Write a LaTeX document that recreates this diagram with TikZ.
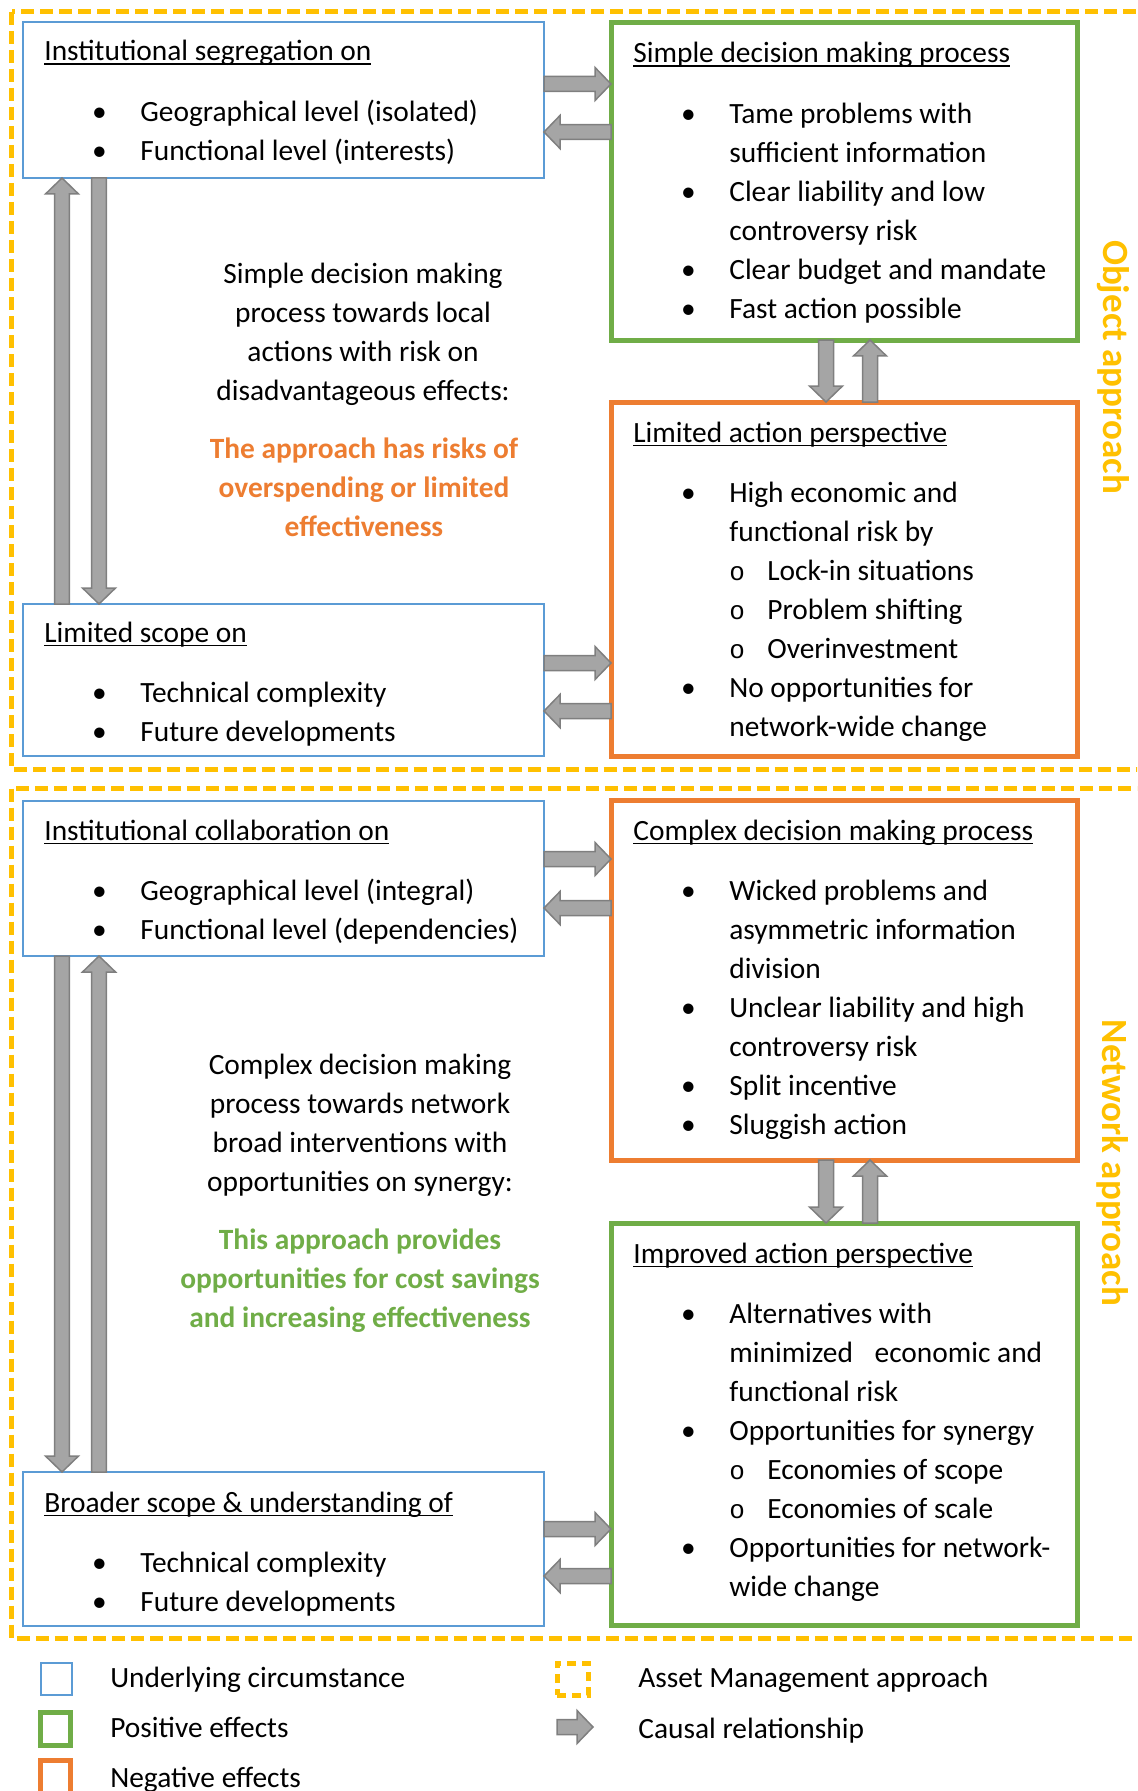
\documentclass[tikz,border=0pt]{standalone}
\usepackage{fontspec}
\setmainfont{Carlito}
\newfontfamily\monofont{Liberation Mono}
\usetikzlibrary{calc,positioning}

\newlength\px
\setlength\px{0.02cm}

\definecolor{circblue}{HTML}{5B9BD5}
\definecolor{posgreen}{HTML}{70AD47}
\definecolor{negorange}{HTML}{ED7D31}
\definecolor{amyellow}{HTML}{FFC000}
\definecolor{arrowfill}{HTML}{A5A5A5}
\definecolor{arrowline}{HTML}{7F7F7F}

\newcommand{\bfnt}{\fontsize{29.4\px}{39\px}\selectfont}
\newcommand{\sidefnt}{\fontsize{37\px}{44\px}\selectfont\bfseries}
\newcommand{\hd}[1]{\setbox0\hbox{#1}\rlap{\rule[-4\px]{\wd0}{1.5\px}}\box0}
\newcommand{\bl}{\makebox[96\px][l]{\hspace*{55\px}\makebox[0pt]{\textbullet}}}
\newcommand{\sbl}{\makebox[38\px][l]{\monofont\fontsize{26\px}{39\px}\selectfont o}}
\newcommand{\boxtext}[2]{\begin{tabular}[t]{@{}l@{}l@{}}
  \multicolumn{2}{@{}l@{}}{\hd{#1}}\\[12.5pt]
  #2
\end{tabular}}

\begin{document}
\begin{tikzpicture}[x=0.02cm,y=-0.02cm,
  cbox/.style={draw,outer sep=0pt,inner sep=0pt,anchor=north west,minimum width=466\px},
  circbox/.style={cbox,draw=circblue,line width=2.5\px,minimum width=521\px},
  posbox/.style={cbox,draw=posgreen,line width=5\px},
  negbox/.style={cbox,draw=negorange,line width=5\px},
  txt/.style={anchor=base west,inner sep=0pt,font=\bfnt},
  mid/.style={anchor=base,inner sep=0pt,font=\bfnt},
  side/.style={rotate=-90,inner sep=0pt,text=amyellow,font=\sidefnt},
  frame/.style={draw=amyellow,line width=5\px,dash pattern=on 13\px off 6\px},
  causal/.style={draw=arrowline,fill=arrowfill,line width=1.5\px,
    to path={($(\tikztostart)!0.15cm!90:(\tikztotarget)$)
      -- ($(\tikztotarget)!0.32cm!(\tikztostart)!0.15cm!90:(\tikztotarget)$)
      -- ($(\tikztotarget)!0.32cm!(\tikztostart)!0.33cm!90:(\tikztotarget)$)
      -- (\tikztotarget)
      -- ($(\tikztotarget)!0.32cm!(\tikztostart)!0.33cm!-90:(\tikztotarget)$)
      -- ($(\tikztotarget)!0.32cm!(\tikztostart)!0.15cm!-90:(\tikztotarget)$)
      -- ($(\tikztostart)!0.15cm!-90:(\tikztotarget)$) -- cycle}}]
\useasboundingbox (0,0) rectangle (1137,1791);
\clip (0,0) rectangle (1137,1791);

% approach frames
\draw[frame] (11.5,12) rectangle (1175,769);
\draw[frame] (11.5,788.5) rectangle (1175,1638);
\node[side] (objlab) at (1113,367) {Object approach};
\node[side] (netlab) at (1113,1163) {Network approach};

% boxes
\node[circbox,minimum height=156\px] (b1) at (23,22) {};
\node[posbox,minimum height=317\px] (g1) at (611,23) {};
\node[negbox,minimum height=354\px] (o1) at (611,402) {};
\node[circbox,minimum height=152\px] (b2) at (23,604) {};
\node[circbox,minimum height=155\px] (b3) at (23,801) {};
\node[negbox,minimum height=360\px] (o2) at (611,800) {};
\node[posbox,minimum height=402\px] (g2) at (611,1223) {};
\node[circbox,minimum height=154\px] (b4) at (23,1472) {};

\node[txt] (b1t) at ($(b1.north west)+(21,39)$) {\boxtext{Institutional segregation on}{
  \bl & Geographical level (isolated)\\
  \bl & Functional level (interests)}};
\node[txt] (g1t) at ($(g1.north west)+(22,40)$) {\boxtext{Simple decision making process}{
  \bl & Tame problems with\\
      & sufficient information\\
  \bl & Clear liability and low\\
      & controversy risk\\
  \bl & Clear budget and mandate\\
  \bl & Fast action possible}};
\node[txt] (o1t) at ($(o1.north west)+(22,40)$) {\boxtext{Limited action perspective}{
  \bl & High economic and\\
      & functional risk by\\
      & \sbl Lock-in situations\\
      & \sbl Problem shifting\\
      & \sbl Overinvestment\\
  \bl & No opportunities for\\
      & network-wide change}};
\node[txt] (b2t) at ($(b2.north west)+(21,38)$) {\boxtext{Limited scope on}{
  \bl & Technical complexity\\
  \bl & Future developments}};
\node[txt] (b3t) at ($(b3.north west)+(21,39)$) {\boxtext{Institutional collaboration on}{
  \bl & Geographical level (integral)\\
  \bl & Functional level (dependencies)}};
\node[txt] (o2t) at ($(o2.north west)+(22,40)$) {\boxtext{Complex decision making process}{
  \bl & Wicked problems and\\
      & asymmetric information\\
      & division\\
  \bl & Unclear liability and high\\
      & controversy risk\\
  \bl & Split incentive\\
  \bl & Sluggish action}};
\node[txt] (g2t) at ($(g2.north west)+(22,40)$) {\boxtext{Improved action perspective}{
  \bl & Alternatives with\\
      & minimized\hspace{15\px} economic and\\
      & functional risk\\
  \bl & Opportunities for synergy\\
      & \sbl Economies of scope\\
      & \sbl Economies of scale\\
  \bl & Opportunities for network-\\
      & wide change}};
\node[txt] (b4t) at ($(b4.north west)+(21,40)$) {\boxtext{Broader scope \& understanding of}{
  \bl & Technical complexity\\
  \bl & Future developments}};

% middle texts
\node[mid] (m1) at (363,283) {\begin{tabular}[t]{@{}c@{}}
  Simple decision making\\ process towards local\\ actions with risk on\\ disadvantageous effects:\end{tabular}};
\node[mid,text=negorange,font=\bfnt\bfseries] (m1r) at (364,458) {\begin{tabular}[t]{@{}c@{}}
  The approach has risks of\\ overspending or limited\\ effectiveness\end{tabular}};
\node[mid] (m2) at (360,1074) {\begin{tabular}[t]{@{}c@{}}
  Complex decision making\\ process towards network\\ broad interventions with\\ opportunities on synergy:\end{tabular}};
\node[mid,text=posgreen,font=\bfnt\bfseries] (m2g) at (360,1249) {\begin{tabular}[t]{@{}c@{}}
  This approach provides\\ opportunities for cost savings\\ and increasing effectiveness\end{tabular}};

% causal relationships
\draw[causal] (b1.east |- 0,84) to (g1.west |- 0,84);
\draw[causal] (g1.west |- 0,132) to (b1.east |- 0,132);
\draw[causal] (g1.south -| 826,0) to (o1.north -| 826,0);
\draw[causal] (o1.north -| 870,0) to (g1.south -| 870,0);
\draw[causal] (b2.north -| 62,0) to (b1.south -| 62,0);
\draw[causal] (b1.south -| 99,0) to (b2.north -| 99,0);
\draw[causal] (b2.east |- 0,663) to (o1.west |- 0,663);
\draw[causal] (o1.west |- 0,711) to (b2.east |- 0,711);
\draw[causal] (b3.east |- 0,859) to (o2.west |- 0,859);
\draw[causal] (o2.west |- 0,908) to (b3.east |- 0,908);
\draw[causal] (o2.south -| 826,0) to (g2.north -| 826,0);
\draw[causal] (g2.north -| 870,0) to (o2.south -| 870,0);
\draw[causal] (b3.south -| 62,0) to (b4.north -| 62,0);
\draw[causal] (b4.north -| 99,0) to (b3.south -| 99,0);
\draw[causal] (b4.east |- 0,1529) to (g2.west |- 0,1529);
\draw[causal] (g2.west |- 0,1576) to (b4.east |- 0,1576);

% legend
\node[circbox,minimum width=31\px,minimum height=32\px] (lgc) at (41,1663) {};
\node[posbox,minimum width=30\px,minimum height=33\px] (lgp) at (40,1712) {};
\node[negbox,minimum width=30\px,minimum height=33\px] (lgn) at (40,1760) {};
\node[txt] (lgct) at (110,1687) {Underlying circumstance};
\node[txt] (lgpt) at (110,1737) {Positive effects};
\node[txt] (lgnt) at (110,1787) {Negative effects};
\node[cbox,draw=amyellow,line width=5\px,dash pattern=on 9\px off 6\px,
  minimum width=31\px,minimum height=32\px] (lgy) at (557,1663) {};
\coordinate (lga) at (557,1727);
\coordinate (lgb) at (593,1727);
\draw[causal] (lga) to (lgb);
\node[txt] (lgyt) at (638,1687) {Asset Management approach};
\node[txt] (lgat) at (638,1738) {Causal relationship};
\end{tikzpicture}
\end{document}
